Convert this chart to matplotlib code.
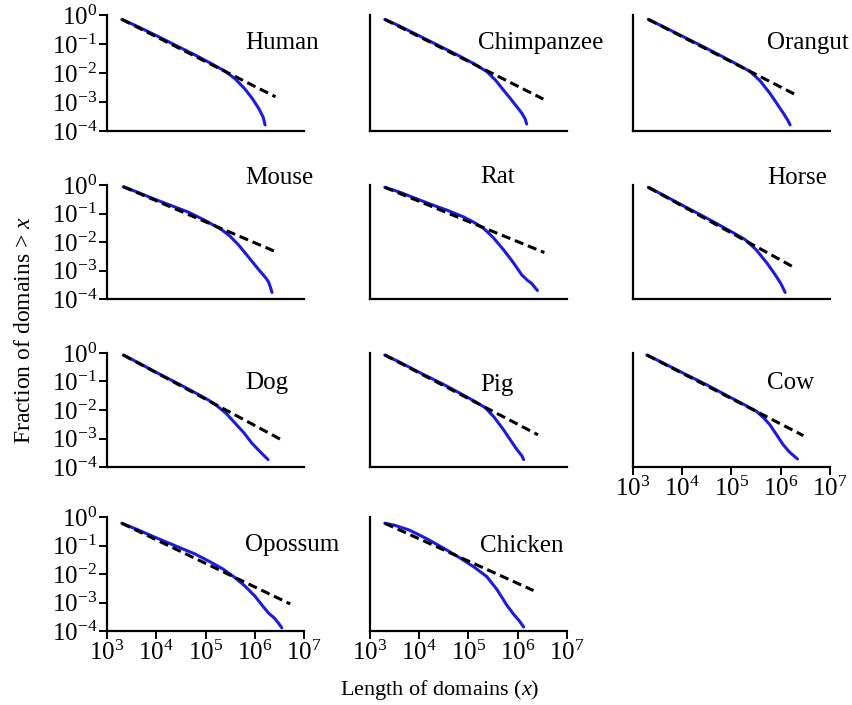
import numpy as np
import matplotlib.pyplot as plt

plt.rcParams['font.family'] = ['Liberation Serif', 'DejaVu Serif']
plt.rcParams['mathtext.fontset'] = 'custom'
plt.rcParams['mathtext.rm'] = 'Liberation Serif'
plt.rcParams['mathtext.it'] = 'Liberation Serif:italic'

# log10 of length / log10 of fraction
species = ["Human", "Chimpanzee", "Orangut",
           "Mouse", "Rat", "Horse",
           "Dog", "Pig", "Cow",
           "Opossum", "Chicken"]

blue_logx = {
    "Human": [3.30, 3.60, 4.00, 4.40, 4.80, 5.10, 5.40, 5.60, 5.80, 5.95, 6.08, 6.17, 6.21],
    "Chimpanzee": [3.30, 3.60, 4.00, 4.40, 4.80, 5.10, 5.37, 5.55, 5.71, 5.85, 5.98, 6.08, 6.15, 6.18],
    "Orangut": [3.31, 3.60, 4.00, 4.40, 4.80, 5.10, 5.38, 5.58, 5.78, 5.92, 6.05, 6.14, 6.19],
    "Mouse": [3.33, 3.60, 4.00, 4.30, 4.65, 5.00, 5.33, 5.50, 5.67, 5.85, 6.00, 6.12, 6.22, 6.28, 6.32, 6.35],
    "Rat": [3.30, 3.60, 4.00, 4.30, 4.56, 4.90, 5.10, 5.30, 5.50, 5.71, 5.90, 6.08, 6.20, 6.28, 6.35, 6.40],
    "Horse": [3.31, 3.60, 4.00, 4.43, 4.80, 5.05, 5.28, 5.50, 5.72, 5.88, 6.00, 6.09],
    "Dog": [3.33, 3.60, 4.00, 4.45, 4.85, 5.05, 5.23, 5.42, 5.60, 5.78, 5.94, 6.10, 6.27],
    "Pig": [3.30, 3.60, 4.00, 4.49, 4.90, 5.15, 5.34, 5.52, 5.71, 5.85, 5.98, 6.08, 6.12],
    "Cow": [3.28, 3.60, 4.00, 4.50, 5.00, 5.30, 5.51, 5.65, 5.78, 5.92, 6.05, 6.18, 6.28, 6.34],
    "Opossum": [3.30, 3.60, 4.00, 4.40, 4.79, 5.10, 5.35, 5.57, 5.80, 6.01, 6.15, 6.28, 6.40, 6.48, 6.55],
    "Chicken": [3.30, 3.50, 3.80, 4.15, 4.50, 4.83, 5.10, 5.37, 5.58, 5.78, 5.92, 6.02, 6.12],
}
blue_logy = {
    "Human": [-0.15, -0.38, -0.71, -1.05, -1.39, -1.66, -1.94, -2.20, -2.55, -2.88, -3.22, -3.52, -3.79],
    "Chimpanzee": [-0.15, -0.38, -0.72, -1.06, -1.40, -1.67, -1.95, -2.25, -2.59, -2.88, -3.16, -3.38, -3.58, -3.76],
    "Orangut": [-0.15, -0.39, -0.73, -1.07, -1.42, -1.69, -1.95, -2.27, -2.70, -3.05, -3.38, -3.62, -3.79],
    "Mouse": [-0.06, -0.24, -0.52, -0.72, -0.95, -1.25, -1.57, -1.80, -2.10, -2.48, -2.80, -3.05, -3.25, -3.40, -3.60, -3.77],
    "Rat": [-0.08, -0.25, -0.52, -0.72, -0.88, -1.12, -1.30, -1.51, -1.84, -2.27, -2.70, -3.15, -3.35, -3.45, -3.60, -3.70],
    "Horse": [-0.08, -0.34, -0.71, -1.10, -1.45, -1.69, -1.92, -2.27, -2.74, -3.13, -3.45, -3.77],
    "Dog": [-0.07, -0.31, -0.68, -1.08, -1.45, -1.64, -1.85, -2.12, -2.46, -2.80, -3.16, -3.45, -3.74],
    "Pig": [-0.07, -0.32, -0.68, -1.10, -1.48, -1.72, -1.92, -2.25, -2.69, -3.05, -3.38, -3.60, -3.74],
    "Cow": [-0.07, -0.34, -0.69, -1.12, -1.58, -1.85, -2.05, -2.27, -2.52, -2.88, -3.22, -3.48, -3.63, -3.72],
    "Opossum": [-0.22, -0.43, -0.73, -1.02, -1.30, -1.58, -1.82, -2.09, -2.42, -2.79, -3.10, -3.37, -3.55, -3.72, -3.89],
    "Chicken": [-0.22, -0.29, -0.46, -0.76, -1.10, -1.44, -1.74, -2.09, -2.55, -3.10, -3.42, -3.62, -3.86],
}
# end point of the dashed power-law fit (starts at first data point)
fit_end_logx = [6.42, 6.52, 6.35, 6.41, 6.54, 6.29, 6.60, 6.41, 6.46, 6.72, 6.32]
fit_end_logy = [-2.82, -2.90, -2.79, -2.33, -2.37, -2.91, -3.10, -2.87, -2.90, -3.05, -2.58]

xticks = [1e3, 1e4, 1e5, 1e6, 1e7]
xticklabels = [r'$10^{3}$', r'$10^{4}$', r'$10^{5}$', r'$10^{6}$', r'$10^{7}$']
yticks = [1e-4, 1e-3, 1e-2, 1e-1, 1e0]
yticklabels = [r'$10^{-4}$', r'$10^{-3}$', r'$10^{-2}$', r'$10^{-1}$', r'$10^{0}$']

# label position in axes fraction
label_pos = {
    "Human": (0.70, 0.76), "Chimpanzee": (0.55, 0.76), "Orangut": (0.68, 0.76),
    "Mouse": (0.70, 1.06), "Rat": (0.56, 1.07), "Horse": (0.68, 1.06),
    "Dog": (0.70, 0.74), "Pig": (0.56, 0.72), "Cow": (0.68, 0.74),
    "Opossum": (0.70, 0.75), "Chicken": (0.56, 0.75),
}

W, H = 853, 705
fig = plt.figure(figsize=(W / 100, H / 100), dpi=100)

col_x = [107, 370, 633]
ax_w = 197
row_top = [15, 185, 353, 517]
row_bot = [131, 299, 467, 631]

for i, name in enumerate(species):
    r, c = divmod(i, 3)
    ax = fig.add_axes([col_x[c] / W, 1 - row_bot[r] / H, ax_w / W,
                       (row_bot[r] - row_top[r]) / H])
    ax.set_xscale('log')
    ax.set_yscale('log')
    ax.set_xlim(1e3, 1e7)
    ax.set_ylim(1e-4, 1e0)
    for s in ['top', 'right']:
        ax.spines[s].set_visible(False)
    for s in ['left', 'bottom']:
        ax.spines[s].set_linewidth(1.6)

    bx = 10 ** np.array(blue_logx[name])
    by = 10 ** np.array(blue_logy[name])
    ax.plot(bx, by, color='#1c1ce0', lw=2.2, solid_joinstyle='round',
            solid_capstyle='round', zorder=2)
    ax.plot([bx[0], 10 ** fit_end_logx[i]], [by[0], 10 ** fit_end_logy[i]],
            color='black', lw=2.2, ls=(0, (3, 1.6)), zorder=3)

    ax.minorticks_off()
    if c == 0:
        ax.set_yticks(yticks)
        ax.set_yticklabels(yticklabels, fontsize=18)
    else:
        ax.set_yticks([])
    if name in ("Cow", "Opossum", "Chicken"):
        ax.set_xticks(xticks)
        ax.set_xticklabels(xticklabels, fontsize=18)
    else:
        ax.set_xticks([])
    ax.tick_params(direction='out', length=6, width=1.4, pad=1)

    lx, ly = label_pos[name]
    ax.text(lx, ly, name, transform=ax.transAxes, fontsize=18,
            ha='left', va='center')

fig.text(25 / W, 1 - 330 / H, r'Fraction of domains > $\mathit{x}$',
         rotation=90, ha='center', va='center', fontsize=17)
fig.text(440 / W, 1 - 690 / H, r'Length of domains ($\mathit{x}$)',
         ha='center', va='center', fontsize=16)

fig.savefig('out.png', dpi=100)
